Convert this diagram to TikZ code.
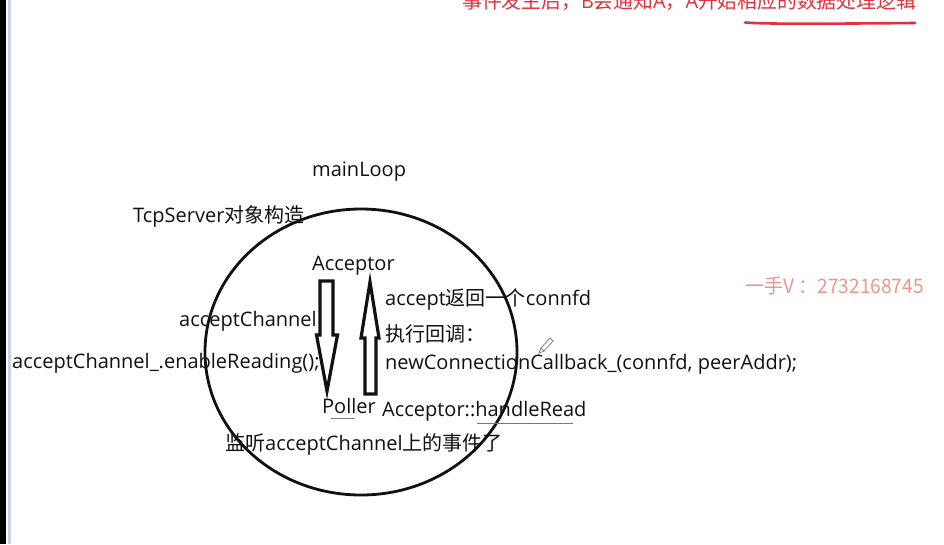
\documentclass[tikz,border=0pt]{standalone}
\usepackage{fontspec}
\usetikzlibrary{shapes.geometric}
\setmainfont{Open Sans}
\newfontfamily\cjk{Noto Sans CJK SC}
\definecolor{txt}{RGB}{17,17,17}
\definecolor{redtxt}{RGB}{228,48,58}
\definecolor{wmark}{RGB}{238,150,140}
\definecolor{edgeblue}{RGB}{200,210,232}
\definecolor{ulgray}{RGB}{120,120,120}
\tikzset{
  lbl/.style={anchor=west, inner sep=0pt, text=txt, font=\fontsize{20}{24}\selectfont, yshift=-2.5pt},
  blockarrow/.style={draw=txt, line width=3.2pt, fill=white, line join=miter},
  thinul/.style={draw=ulgray, line width=0.8pt}
}
\begin{document}
\begin{tikzpicture}[x=1pt,y=-1pt]
\useasboundingbox (0,0) rectangle (944,544);
\clip (0,0) rectangle (944,544);
\fill[white] (0,0) rectangle (944,544);
% left window edge
\fill[black] (0,0) rectangle (6,544);
\fill[edgeblue] (8,0) rectangle (10.5,544);
% top red note (cut off)
\node[anchor=west, inner sep=0pt, text=redtxt, font=\fontsize{20}{24}\selectfont, xscale=0.99] (note) at (462,1)
  {{\cjk 事件发生后，}B{\cjk 会通知}A{\cjk ，}A{\cjk 开始相应的数据处理逻辑}};
\coordinate (ulA) at (745,22.5);
\coordinate (ulB) at (915,23);
\draw[redtxt, line width=2.6pt, line cap=round] (ulA) .. controls (770,24.5) and (850,23.5) .. (ulB);
% watermark
\node[anchor=west, inner sep=0pt, text=wmark, font=\cjk\fontsize{20}{24}\selectfont, xscale=0.955] (wm) at (745,286) {一手V ：2732168745};
% circle
\node[draw=txt, line width=2.8pt, ellipse, minimum width=312pt, minimum height=286pt, inner sep=0pt] (loop) at (361,352) {};
% labels
\node[lbl] (mainloop) at (312,169) {mainLoop};
\node[lbl] (tcp) at (133,214) {TcpServer{\cjk 对象构造}};
\node[lbl] (acceptor) at (312,263) {Acceptor};
\node[lbl] (acc) at (385,297) {accept{\cjk 返回一个}connfd};
\node[lbl] (ach) at (179,319) {acceptChannel};
\node[lbl] (cb) at (385,331) {{\cjk 执行回调：}};
\node[lbl] (enable) at (12,361) {acceptChannel\_.enableReading();};
\node[lbl] (newconn) at (385,362) {newConnectionCallback\_(connfd, peerAddr);};
\node[lbl] (poller) at (322,403) {Poller};
\node[lbl] (handle) at (382,409) {Acceptor::handleRead};
\node[lbl] (listen) at (225,442) {{\cjk 监听}acceptChannel{\cjk 上的事件了}};
% underlines
\draw[thinul] (331,418) -- (355,418);
\draw[thinul] (477,423) -- (573,423);
% block arrows
\draw[blockarrow] (320,281) -- (333,281) -- (333,335) -- (337.5,335) -- (327,391) -- (316.5,335) -- (320,335) -- cycle;
\draw[blockarrow] (365,394) -- (376,394) -- (376,338) -- (379,338) -- (370,282) -- (361,338) -- (365,338) -- cycle;
% pencil cursor
\draw[gray, line width=0.8pt] (541,348) -- (550,338) -- (553,341) -- (544,351) -- cycle;
\draw[gray, line width=0.8pt] (541,348) -- (539,353) -- (544,351);
\end{tikzpicture}
\end{document}
